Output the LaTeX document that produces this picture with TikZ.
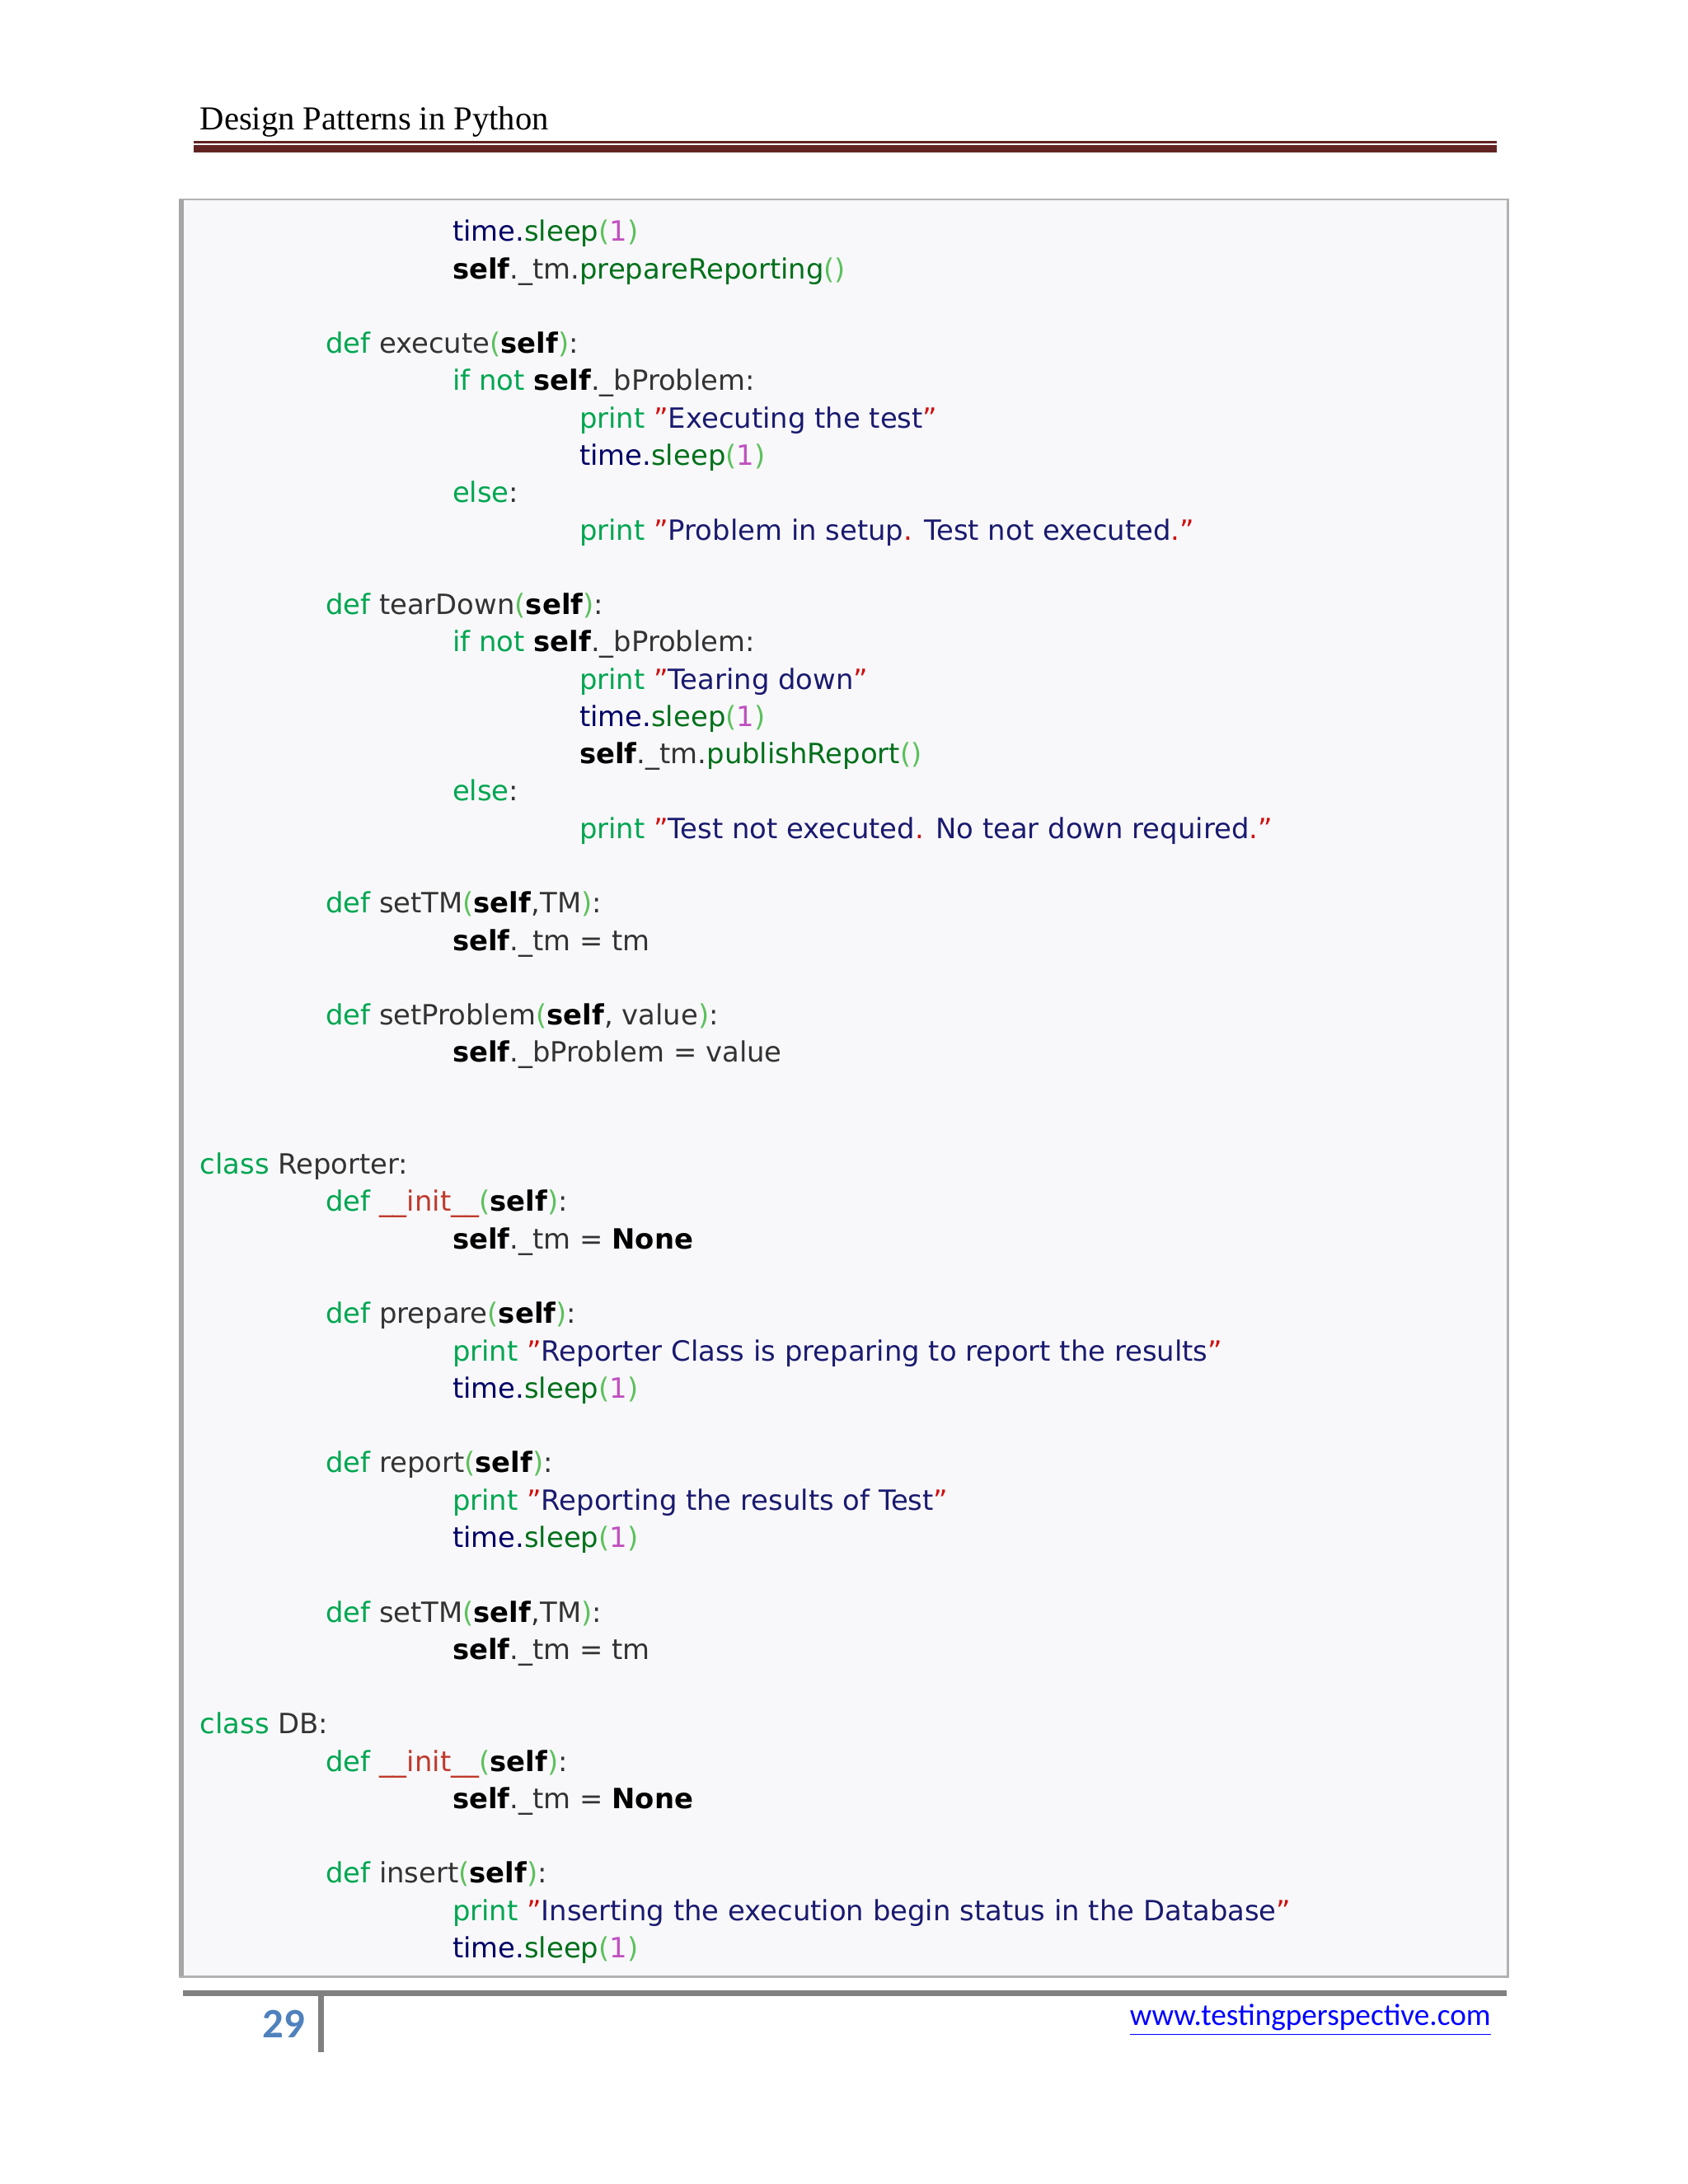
\documentclass[tikz,border=0pt]{standalone}
\usepackage{fontspec}
\setmainfont{DejaVu Sans}
\newfontfamily\headfont{Liberation Serif}
\newfontfamily\footfont{Carlito}
\definecolor{kwgreen}{HTML}{00A651}
\definecolor{parg}{HTML}{5CC15C}
\definecolor{idgray}{HTML}{333333}
\definecolor{timenavy}{HTML}{000066}
\definecolor{fngreen}{HTML}{00701A}
\definecolor{nummag}{HTML}{C050C0}
\definecolor{strnavy}{HTML}{1A1A70}
\definecolor{qred}{HTML}{D01010}
\definecolor{initred}{HTML}{C0392B}
\definecolor{maroon}{HTML}{622423}
\definecolor{boxfill}{HTML}{F8F8FA}
\definecolor{pageblue}{HTML}{4F81BD}
\newcommand\kw[1]{\textcolor{kwgreen}{#1}}
\newcommand\pa[1]{\textcolor{parg}{#1}}
\newcommand\me{\textcolor{black}{\textbf{self}}}
\newcommand\sleepone{\textcolor{timenavy}{time.}\textcolor{fngreen}{sleep}\pa{(}\textcolor{nummag}{1}\pa{)}}
\newcommand\qs[1]{\textcolor{qred}{"}\textcolor{strnavy}{#1}\textcolor{qred}{"}}
\newcommand\rd[1]{\textcolor{qred}{#1}}
\begin{document}
\begin{tikzpicture}[x=0.5pt,y=-0.5pt,code/.style={anchor=base west,inner sep=0pt,font=\fontsize{10}{12}\selectfont,text=idgray}]
\useasboundingbox (0,0) rectangle (1210,1565.7);
% header
\node[anchor=base west,inner sep=0pt,font=\headfont\fontsize{12}{14}\selectfont] (title) at (143,93) {Design Patterns in Python};
\draw[maroon,line width=1pt] (139,102) -- (1073,102);
\draw[maroon,line width=2.5pt] (139,106.5) -- (1073,106.5);
% code box
\draw[gray!60,fill=boxfill,line width=0.8pt] (129,143) rectangle (1081,1417);
\draw[gray!70,line width=2pt] (130,143) -- (130,1417);
% code lines
\node[code] (l0) at (324,{173+26.75*0}) {\sleepone};
\node[code] (l1) at (324,{173+26.75*1}) {\me.\_tm.\textcolor{fngreen}{prepareReporting}\pa{()}};
\node[code] (l3) at (233,{173+26.75*3}) {\kw{def} execute\pa{(}\me\pa{)}:};
\node[code] (l4) at (324,{173+26.75*4}) {\kw{if not} \me.\_bProblem:};
\node[code] (l5) at (415,{173+26.75*5}) {\kw{print} \qs{Executing the test}};
\node[code] (l6) at (415,{173+26.75*6}) {\sleepone};
\node[code] (l7) at (324,{173+26.75*7}) {\kw{else}:};
\node[code] (l8) at (415,{173+26.75*8}) {\kw{print} \qs{Problem in setup\rd{.} Test not executed\rd{.}}};
\node[code] (l10) at (233,{173+26.75*10}) {\kw{def} tearDown\pa{(}\me\pa{)}:};
\node[code] (l11) at (324,{173+26.75*11}) {\kw{if not} \me.\_bProblem:};
\node[code] (l12) at (415,{173+26.75*12}) {\kw{print} \qs{Tearing down}};
\node[code] (l13) at (415,{173+26.75*13}) {\sleepone};
\node[code] (l14) at (415,{173+26.75*14}) {\me.\_tm.\textcolor{fngreen}{publishReport}\pa{()}};
\node[code] (l15) at (324,{173+26.75*15}) {\kw{else}:};
\node[code] (l16) at (415,{173+26.75*16}) {\kw{print} \qs{Test not executed\rd{.} No tear down required\rd{.}}};
\node[code] (l18) at (233,{173+26.75*18}) {\kw{def} setTM\pa{(}\me,TM\pa{)}:};
\node[code] (l19) at (324,{173+26.75*19}) {\me.\_tm = tm};
\node[code] (l21) at (233,{173+26.75*21}) {\kw{def} setProblem\pa{(}\me, value\pa{)}:};
\node[code] (l22) at (324,{173+26.75*22}) {\me.\_bProblem = value};
\node[code] (l25) at (143,{173+26.75*25}) {\kw{class} Reporter:};
\node[code] (l26) at (233,{173+26.75*26}) {\kw{def} \textcolor{initred}{\_\_init\_\_}\pa{(}\me\pa{)}:};
\node[code] (l27) at (324,{173+26.75*27}) {\me.\_tm = \textcolor{black}{\textbf{None}}};
\node[code] (l29) at (233,{173+26.75*29}) {\kw{def} prepare\pa{(}\me\pa{)}:};
\node[code] (l30) at (324,{173+26.75*30}) {\kw{print} \qs{Reporter Class is preparing to report the results}};
\node[code] (l31) at (324,{173+26.75*31}) {\sleepone};
\node[code] (l33) at (233,{173+26.75*33}) {\kw{def} report\pa{(}\me\pa{)}:};
\node[code] (l34) at (324,{173+26.75*34}) {\kw{print} \qs{Reporting the results of Test}};
\node[code] (l35) at (324,{173+26.75*35}) {\sleepone};
\node[code] (l37) at (233,{173+26.75*37}) {\kw{def} setTM\pa{(}\me,TM\pa{)}:};
\node[code] (l38) at (324,{173+26.75*38}) {\me.\_tm = tm};
\node[code] (l40) at (143,{173+26.75*40}) {\kw{class} DB:};
\node[code] (l41) at (233,{173+26.75*41}) {\kw{def} \textcolor{initred}{\_\_init\_\_}\pa{(}\me\pa{)}:};
\node[code] (l42) at (324,{173+26.75*42}) {\me.\_tm = \textcolor{black}{\textbf{None}}};
\node[code] (l44) at (233,{173+26.75*44}) {\kw{def} insert\pa{(}\me\pa{)}:};
\node[code] (l45) at (324,{173+26.75*45}) {\kw{print} \qs{Inserting the execution begin status in the Database}};
\node[code] (l46) at (324,{173+26.75*46}) {\sleepone};
% footer
\draw[gray,line width=2pt] (131,1429) -- (1080,1429);
\draw[gray,line width=2pt] (230,1429) -- (230,1471);
\node[anchor=base east,inner sep=0pt,text=pageblue,font=\footfont\bfseries\fontsize{15}{18}\selectfont] (page) at (219,1461) {29};
\node[anchor=base east,inner sep=0pt,text=blue,font=\footfont\fontsize{11}{13}\selectfont] (link) at (1069,1452) {\underline{www.testingperspective.com}};
\end{tikzpicture}
\end{document}
